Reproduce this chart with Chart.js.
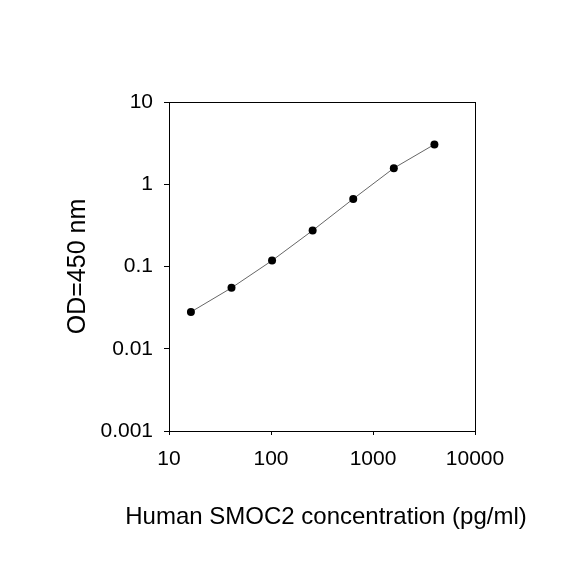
<!DOCTYPE html>
<html>
<head>
<meta charset="utf-8">
<script src="https://cdn.jsdelivr.net/npm/chart.js@4"></script>
<style>
  html, body { margin: 0; padding: 0; background: #fff; }
  #wrap { width: 584px; height: 584px; }
</style>
</head>
<body>
<div id="wrap"><canvas id="stdCurve"></canvas></div>
<script>
// Curva estándar
const concentration = [16.4, 41, 102.4, 256, 640, 1600, 4000]; // pg/ml
const od450 = [0.028, 0.055, 0.118, 0.274, 0.664, 1.57, 3.05];
const xTicks = [10, 100, 1000, 10000];
const xTickLabels = ['10', '100', '1000', '10000'];
const yTicks = [0.001, 0.01, 0.1, 1, 10];
const yTickLabels = ['0.001', '0.01', '0.1', '1', '10'];
const xTitle = 'Human SMOC2 concentration (pg/ml)';
const yTitle = 'OD=450 nm';

const font = 'Liberation Sans, Arial, sans-serif';

const points = concentration.map((c, i) => ({ x: c, y: od450[i] }));

// El título del eje X es más ancho que el área del gráfico, Chart.js lo comprimiría
const xTitlePlugin = {
    id: 'xTitle',
    afterDraw(chart) {
        const { ctx, chartArea } = chart;
        ctx.save();
        ctx.fillStyle = '#000';
        ctx.font = '24px ' + font;
        ctx.textAlign = 'center';
        ctx.textBaseline = 'middle';
        ctx.fillText(xTitle, (chartArea.left + chartArea.right) / 2 + 4, 517);
        ctx.restore();
    },
};

const ctx = document.getElementById('stdCurve').getContext('2d');
const chart = new Chart(ctx, {
    type: 'scatter',
    data: {
        datasets: [
            {
                data: points,
                showLine: true,
                borderColor: '#666',
                borderWidth: 1,
                pointRadius: 4,
                pointHoverRadius: 4,
                pointBackgroundColor: '#000',
                pointBorderColor: '#000',
                pointBorderWidth: 0,
            },
        ],
    },
    plugins: [xTitlePlugin],
    options: {
        responsive: true,
        maintainAspectRatio: false,
        animation: false,
        layout: { padding: { top: 102, right: 109, left: 0, bottom: 0 } },
        plugins: {
            legend: { display: false },
            tooltip: { enabled: false },
        },
        scales: {
            x: {
                type: 'logarithmic',
                position: 'bottom',
                min: 10,
                max: 10000,
                afterBuildTicks: s => { s.ticks = xTicks.map(v => ({ value: v })); },
                afterFit: s => { s.height = 153; },
                ticks: {
                    padding: 12,
                    color: '#000',
                    font: { family: font, size: 21 },
                    callback: (v, i) => xTickLabels[i],
                },
                grid: { display: true, drawOnChartArea: false, drawTicks: true, tickLength: 4, color: '#000' },
                border: { display: true, color: '#000', width: 1 },
                title: { display: false },
            },
            y: {
                type: 'logarithmic',
                position: 'left',
                min: 0.001,
                max: 10,
                afterBuildTicks: s => { s.ticks = yTicks.map(v => ({ value: v })); },
                afterFit: s => { s.width = 169; },
                ticks: {
                    padding: 11,
                    color: '#000',
                    font: { family: font, size: 21 },
                    callback: (v, i) => yTickLabels[i],
                },
                grid: { display: true, drawOnChartArea: false, drawTicks: true, tickLength: 5, color: '#000' },
                border: { display: true, color: '#000', width: 1 },
                title: {
                    display: true,
                    text: yTitle,
                    color: '#000',
                    font: { family: font, size: 25 },
                    padding: { top: 63, bottom: 0 },
                },
            },
            // marco superior y derecho
            x2: {
                type: 'linear',
                position: 'top',
                afterFit: s => { s.height = 0; },
                ticks: { display: false },
                grid: { display: false, drawTicks: false },
                border: { display: true, color: '#000', width: 1 },
            },
            y2: {
                type: 'linear',
                position: 'right',
                afterFit: s => { s.width = 0; },
                ticks: { display: false },
                grid: { display: false, drawTicks: false },
                border: { display: true, color: '#000', width: 1 },
            },
        },
    },
});
</script>
</body>
</html>
